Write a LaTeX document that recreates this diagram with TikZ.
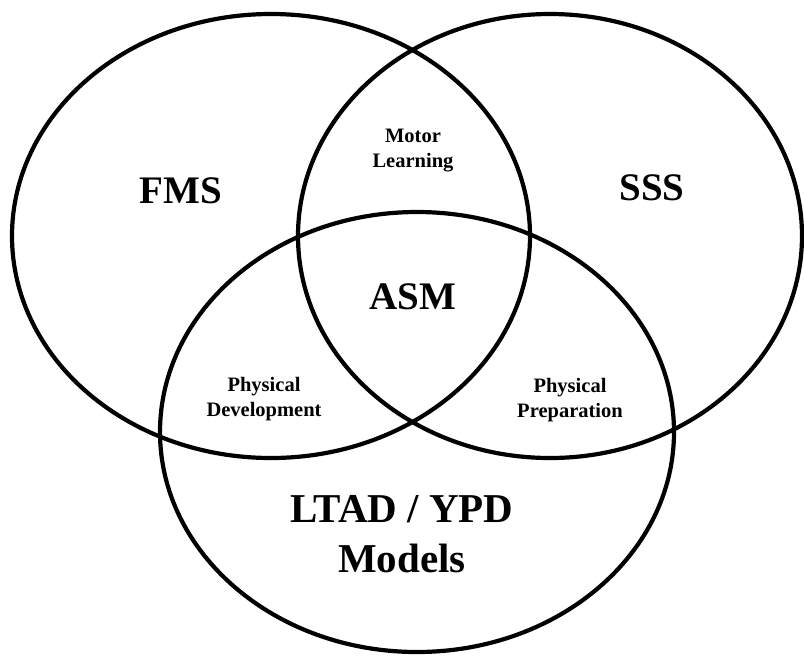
\documentclass[tikz,border=0pt]{standalone}
\usepackage{fontspec}
\setmainfont{Liberation Serif}
\begin{document}
\begin{tikzpicture}[x=1pt,y=-1pt,
		ring/.style={line width=4.2pt},
		biglabel/.style={font=\fontsize{39}{50}\selectfont\bfseries, align=center, anchor=base, inner sep=0pt},
		smalllabel/.style={font=\fontsize{20.5}{25}\selectfont\bfseries, align=center, anchor=base, inner sep=0pt}]
		\useasboundingbox (0,0) rectangle (804,657);
		
		\draw[ring] (271,236) ellipse [x radius=259, y radius=222];
		\draw[ring] (550,236) ellipse [x radius=252, y radius=222];
		\draw[ring] (417,432) ellipse [x radius=257, y radius=220];
		
		\node[biglabel] (fms) at (181,203) {FMS};
		\node[biglabel] (sss) at (652,200) {SSS};
		\node[biglabel] (asm) at (413,309) {ASM};
		\node[biglabel, font=\fontsize{41}{50}\selectfont\bfseries] (ltad) at (402,572) {LTAD / YPD\\Models};
		
		\node[smalllabel] (motor) at (413,167) {Motor\\Learning};
		\node[smalllabel] (devel) at (264,416) {Physical\\Development};
		\node[smalllabel] (prep) at (570,417) {Physical\\Preparation};
	\end{tikzpicture}
\end{document}
